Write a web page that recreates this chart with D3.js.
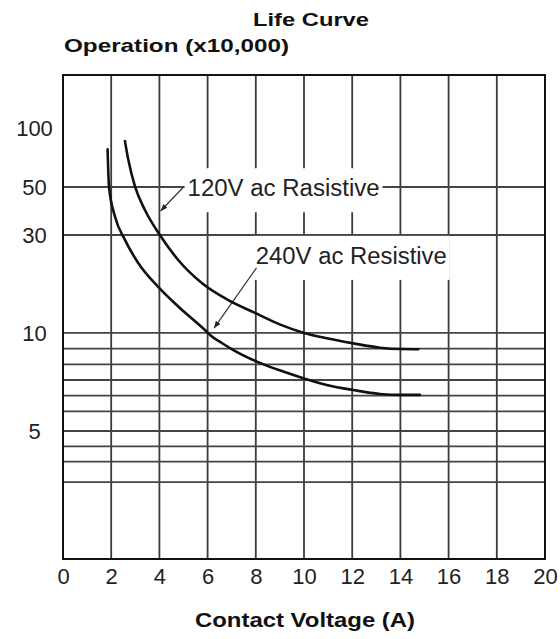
<!DOCTYPE html>
<html>
<head>
<meta charset="utf-8">
<script src="https://cdn.jsdelivr.net/npm/d3@7"></script>
<style>
  html, body { margin: 0; padding: 0; background: #fff; }
  svg { display: block; }
</style>
</head>
<body>
<svg id="chart" width="560" height="639"></svg>
<script>
// ---------------- DATA ----------------
const chartTitle = "Life Curve";
const yTitle = "Operation (x10,000)";
const xTitle = "Contact Voltage (A)";

const xTicks = [0, 2, 4, 6, 8, 10, 12, 14, 16, 18, 20];
const yTickLabels = [100, 50, 30, 10, 5];
const yGridValues = [50, 30, 10, 9.2, 8.4, 7.6, 6.8, 6, 5, 4.4, 3.8, 3];

// 120V ac resistive curve
const current120 = [2.57, 2.71, 2.99, 3.40, 4.02, 4.78, 5.76, 6.86, 7.97, 9.07, 9.97, 10.94, 12.05, 13.15, 13.98, 14.74];
const life120    = [89, 73, 50.3, 40.4, 30, 24.9, 20.2, 16.7, 14.1, 11.6, 10.05, 9.73, 9.47, 9.25, 9.18, 9.17];

// 240V ac resistive curve
const current240 = [1.85, 1.91, 2.16, 2.57, 3.12, 3.95, 4.78, 5.89, 6.10, 6.59, 7.07, 8.04, 9.14, 9.97, 10.94, 12.05, 13.15, 13.98, 14.81];
const life240    = [82, 50, 37.6, 29, 24.3, 19.4, 15.4, 10.6, 9.9, 9.49, 9.13, 8.54, 8.03, 7.69, 7.35, 7.09, 6.89, 6.84, 6.84];

// annotations: label text, label anchor (data), leader start (data), arrow tip (data)
const annoLabels = ["120V ac Rasistive", "240V ac Resistive"];
const annoTextX  = [5.17, 8.0];
const annoTextY  = [49.6, 25.8];
const annoFromX  = [5.0, 8.03];
const annoFromY  = [50, 23.3];
const annoToX    = [4.05, 6.27];
const annoToY    = [40, 11.0];

// ---------------- LAYOUT ----------------
const W = 560, H = 639;
const margin = {top: 75, right: 15, bottom: 80, left: 63};
const iw = W - margin.left - margin.right;   // 482
const ih = H - margin.top - margin.bottom;   // 484

const svg = d3.select("#chart");
const g = svg.append("g").attr("transform", `translate(${margin.left},${margin.top})`);

const x = d3.scaleLinear().domain([0, 20]).range([0, iw]);
// the printed axis is a hand-drawn, non-uniform scale: piecewise between labelled values
const yStops = [0, 5, 10, 30, 50, 100, 145];
const yFrac  = [0, 0.2645, 0.467, 0.6694, 0.7686, 0.8905, 1];
const y = d3.scaleLinear().domain(yStops).range(yFrac.map(f => ih * (1 - f)));

const gridColor = "#3a3a3a";

// vertical grid
g.append("g").selectAll("line")
  .data(xTicks.filter(v => v > 0 && v < 20))
  .join("line")
  .attr("x1", d => x(d)).attr("x2", d => x(d))
  .attr("y1", 0).attr("y2", ih)
  .attr("stroke", gridColor).attr("stroke-width", 1.8);

// horizontal grid
g.append("g").selectAll("line")
  .data(yGridValues)
  .join("line")
  .attr("x1", 0).attr("x2", iw)
  .attr("y1", d => y(d)).attr("y2", d => y(d))
  .attr("stroke", "#444").attr("stroke-width", 1.8);

// frame
g.append("rect").attr("x", 0).attr("y", 0).attr("width", iw).attr("height", ih)
  .attr("fill", "none").attr("stroke", "#111").attr("stroke-width", 2);

// x axis tick labels
const xAxis = d3.axisBottom(x).tickValues(xTicks).tickSize(0).tickPadding(9).tickFormat(d3.format("d"));
const xa = g.append("g").attr("transform", `translate(0,${ih})`).call(xAxis);
xa.select(".domain").remove();
xa.selectAll("text")
  .attr("font-family", "'Liberation Sans', Arial, sans-serif")
  .attr("font-size", 22).attr("fill", "#222");

// y axis tick labels (centered in the left margin)
const ya = g.append("g").attr("transform", "translate(-28.5,0)");
ya.selectAll("text").data(yTickLabels).join("text")
  .attr("x", 0).attr("y", d => y(d))
  .attr("dy", "0.36em")
  .attr("text-anchor", "middle")
  .attr("font-family", "'Liberation Sans', Arial, sans-serif")
  .attr("font-size", 22).attr("fill", "#222")
  .text(d => d);

// annotations with white backgrounds
const annoWidths = [192, 191];
const annoG = g.append("g");
annoLabels.forEach((lab, i) => {
  const t = annoG.append("text")
    .attr("x", x(annoTextX[i])).attr("y", y(annoTextY[i]))
    .attr("dy", "0.36em")
    .attr("font-family", "'Liberation Sans', Arial, sans-serif")
    .attr("font-size", 23).attr("fill", "#222")
    .attr("textLength", annoWidths[i]).attr("lengthAdjust", "spacingAndGlyphs")
    .text(lab);
  const bb = t.node().getBBox();
  annoG.insert("rect", "text")
    .attr("x", bb.x - 3).attr("y", bb.y - 7)
    .attr("width", bb.width + 6).attr("height", bb.height + 18)
    .attr("fill", "#fff");
});

// arrow marker
svg.append("defs").append("marker")
  .attr("id", "arr").attr("viewBox", "0 0 10 10")
  .attr("refX", 10).attr("refY", 5)
  .attr("markerWidth", 7).attr("markerHeight", 7)
  .attr("markerUnits", "userSpaceOnUse")
  .attr("orient", "auto")
  .append("path").attr("d", "M0,1 L10,5 L0,9 Z").attr("fill", "#222");

annoLabels.forEach((lab, i) => {
  g.append("line")
    .attr("x1", x(annoFromX[i])).attr("y1", y(annoFromY[i]))
    .attr("x2", x(annoToX[i])).attr("y2", y(annoToY[i]))
    .attr("stroke", "#333").attr("stroke-width", 1.2)
    .attr("marker-end", "url(#arr)");
});

// curves
const line = d3.line().x(d => x(d[0])).y(d => y(d[1])).curve(d3.curveMonotoneX);
const s120 = current120.map((c, i) => [c, life120[i]]);
const s240 = current240.map((c, i) => [c, life240[i]]);
[s120, s240].forEach(s => {
  g.append("path").datum(s).attr("d", line)
    .attr("fill", "none").attr("stroke", "#111").attr("stroke-width", 2.6)
    .attr("stroke-linecap", "round");
});

// titles
svg.append("text")
  .attr("x", 311).attr("y", 26)
  .attr("text-anchor", "middle")
  .attr("font-family", "'Liberation Sans', Arial, sans-serif")
  .attr("font-weight", "bold").attr("font-size", 19).attr("fill", "#111")
  .attr("textLength", 116).attr("lengthAdjust", "spacingAndGlyphs")
  .text(chartTitle);

svg.append("text")
  .attr("x", 64).attr("y", 52)
  .attr("font-family", "'Liberation Sans', Arial, sans-serif")
  .attr("font-weight", "bold").attr("font-size", 19).attr("fill", "#111")
  .attr("textLength", 225).attr("lengthAdjust", "spacingAndGlyphs")
  .text(yTitle);

svg.append("text")
  .attr("x", 305).attr("y", 627)
  .attr("text-anchor", "middle")
  .attr("font-family", "'Liberation Sans', Arial, sans-serif")
  .attr("font-weight", "bold").attr("font-size", 20).attr("fill", "#111")
  .attr("textLength", 220).attr("lengthAdjust", "spacingAndGlyphs")
  .text(xTitle);
</script>
</body>
</html>
